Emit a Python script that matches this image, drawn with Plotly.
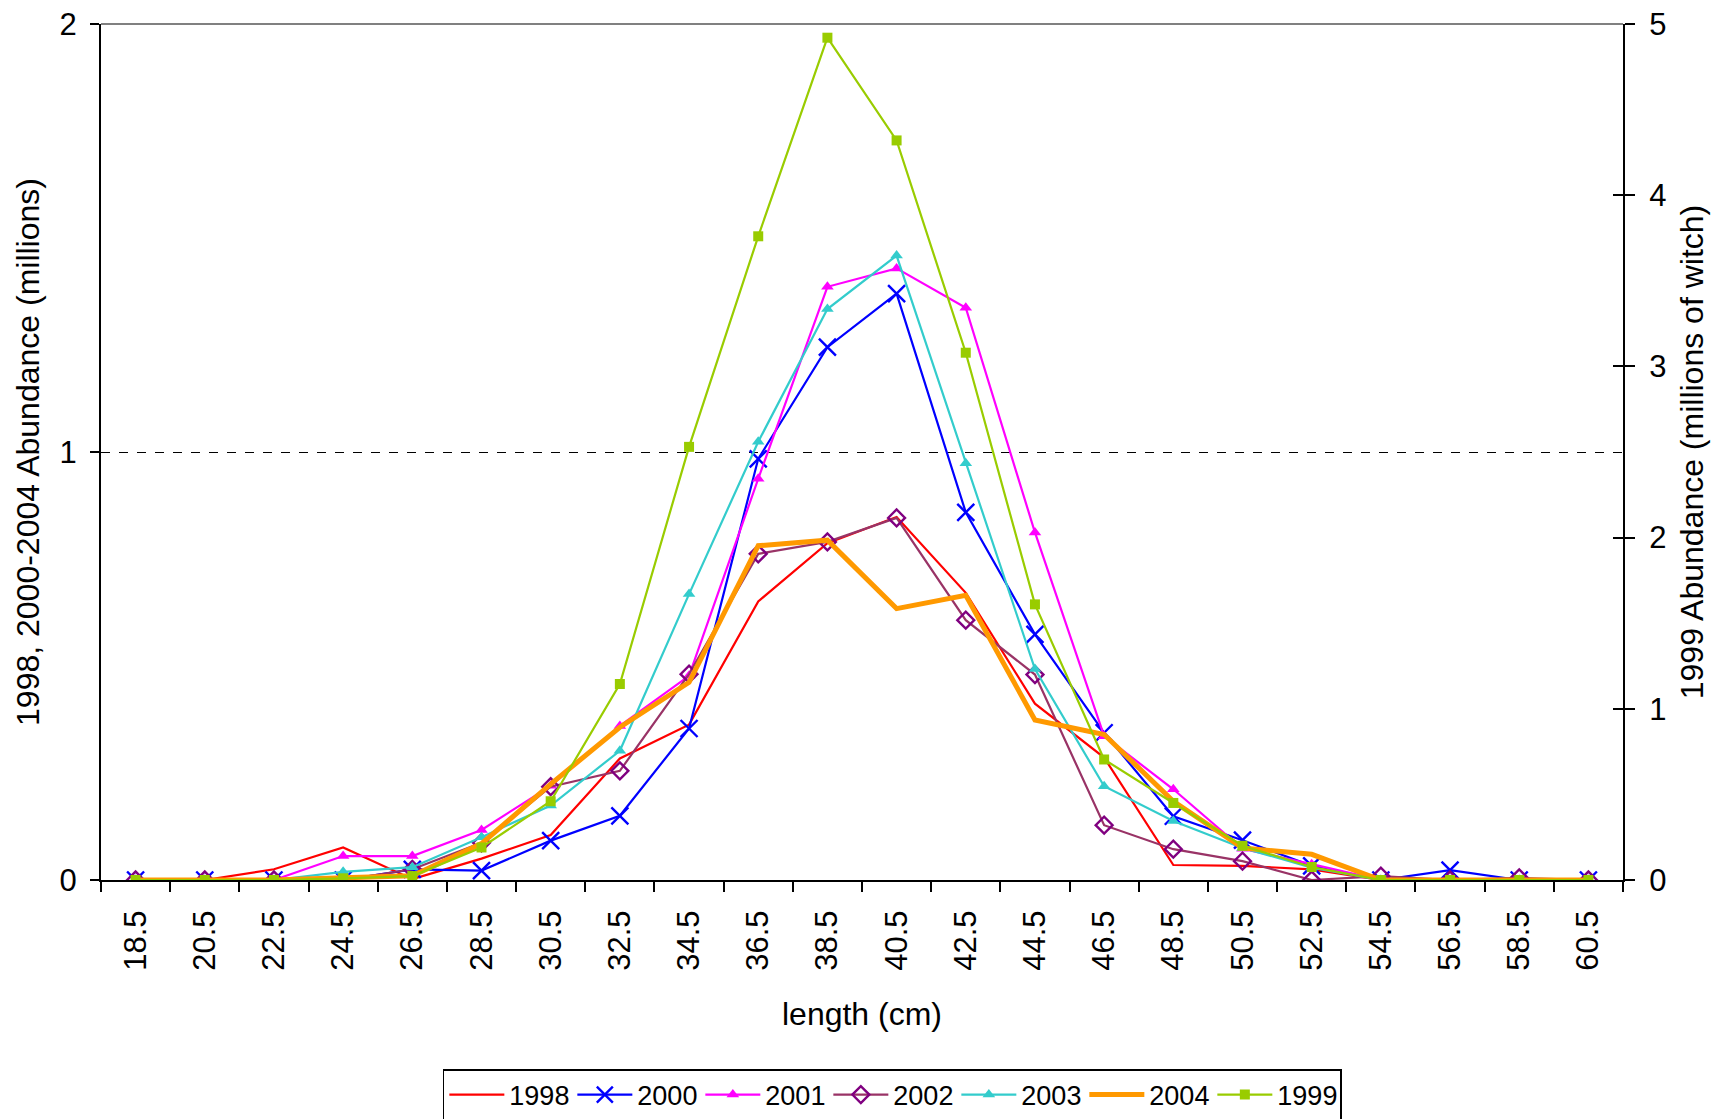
import plotly.graph_objects as go

lengths = ["18.5", "20.5", "22.5", "24.5", "26.5", "28.5", "30.5", "32.5", "34.5", "36.5", "38.5",
           "40.5", "42.5", "44.5", "46.5", "48.5", "50.5", "52.5", "54.5", "56.5", "58.5", "60.5"]

y1998 = [0, 0, 0.025, 0.076, 0.002, 0.05, 0.105, 0.284, 0.363, 0.651, 0.787, 0.848, 0.671, 0.412, 0.286, 0.035, 0.033, 0.025, 0, 0, 0, 0]
y2000 = [0, 0, 0, 0, 0.025, 0.022, 0.092, 0.150, 0.354, 0.984, 1.245, 1.370, 0.859, 0.574, 0.344, 0.149, 0.093, 0.033, 0, 0.023, 0, 0]
y2001 = [0, 0, 0, 0.056, 0.056, 0.117, 0.22, 0.36, 0.477, 0.9375, 1.386, 1.429, 1.337, 0.812, 0.336, 0.212, 0.073, 0.037, 0, 0, 0, 0]
y2002 = [0, 0, 0, 0, 0.025, 0.087, 0.218, 0.255, 0.481, 0.762, 0.79, 0.846, 0.607, 0.48, 0.128, 0.072, 0.044, 0, 0.009, 0, 0.005, 0]
y2003 = [0, 0, 0, 0.019, 0.03, 0.10, 0.174, 0.302, 0.668, 1.024, 1.334, 1.459, 0.974, 0.493, 0.219, 0.138, 0.075, 0.029, 0, 0, 0, 0]
y2004 = [0, 0, 0, 0.005, 0.01, 0.085, 0.224, 0.357, 0.462, 0.781, 0.794, 0.634, 0.665, 0.374, 0.34, 0.184, 0.075, 0.06, 0, 0, 0, 0]
y1999 = [0, 0, 0, 0.01, 0.023, 0.19, 0.46, 1.145, 2.53, 3.76, 4.92, 4.32, 3.08, 1.61, 0.704, 0.45, 0.2, 0.076, 0, 0, 0, 0]

FONT = "Liberation Sans, Arial, sans-serif"

fig = go.Figure()
fig.add_trace(go.Scatter(x=lengths, y=y1998, name="1998", mode="lines",
                         line=dict(color="#FF0000", width=2.2)))
fig.add_trace(go.Scatter(x=lengths, y=y2000, name="2000", mode="lines+markers",
                         line=dict(color="#0000FF", width=2.2),
                         marker=dict(symbol="x-thin", size=17, line=dict(color="#0000FF", width=2.4))))
fig.add_trace(go.Scatter(x=lengths, y=y2001, name="2001", mode="lines+markers",
                         line=dict(color="#FF00FF", width=2.2),
                         marker=dict(symbol="triangle-up", size=11, color="#FF00FF")))
fig.add_trace(go.Scatter(x=lengths, y=y2002, name="2002", mode="lines+markers",
                         line=dict(color="#993366", width=2.2),
                         marker=dict(symbol="diamond-open", size=13, color="#800080", line=dict(width=2.4))))
fig.add_trace(go.Scatter(x=lengths, y=y2003, name="2003", mode="lines+markers",
                         line=dict(color="#33CCCC", width=2.2),
                         marker=dict(symbol="triangle-up", size=11, color="#33CCCC")))
fig.add_trace(go.Scatter(x=lengths, y=y2004, name="2004", mode="lines",
                         line=dict(color="#FF9900", width=5)))
fig.add_trace(go.Scatter(x=lengths, y=y1999, name="1999", mode="lines+markers", yaxis="y2",
                         line=dict(color="#99CC00", width=2.2),
                         marker=dict(symbol="square", size=10, color="#99CC00")))

fig.update_layout(
    width=1716, height=1119,
    paper_bgcolor="white", plot_bgcolor="white",
    margin=dict(l=101, r=93, t=24, b=239),
    font=dict(family=FONT, size=31, color="black"),
    showlegend=True,
    legend=dict(orientation="h", x=0.2246, xanchor="left",
                yref="container", y=1 - 1069 / 1119, yanchor="top",
                bordercolor="black", borderwidth=1.5, bgcolor="white",
                font=dict(family=FONT, size=27), itemwidth=55,
                entrywidth=58, entrywidthmode="pixels", tracegroupgap=0),
    xaxis=dict(type="category", range=[-0.5, 21.5], tickson="boundaries",
               ticks="outside", ticklen=10, tickwidth=2, tickcolor="black",
               showline=True, linecolor="black", linewidth=2, automargin=False,
               tickangle=-90, showgrid=False, zeroline=False, ticklabelstandoff=16,
               tickfont=dict(size=31),
               title=dict(text="length (cm)", font=dict(size=32), standoff=33)),
    yaxis=dict(range=[0, 2], dtick=1, ticks="outside", ticklen=9, tickwidth=1.5, tickcolor="black",
               showline=True, linecolor="black", linewidth=2, automargin=False,
               showgrid=True, gridcolor="black", griddash="dash", gridwidth=1,
               zeroline=False, ticklabelstandoff=7, tickfont=dict(size=31),
               title=dict(text="1998, 2000-2004 Abundance (millions)", font=dict(size=32), standoff=10)),
    yaxis2=dict(range=[0, 5], dtick=1, overlaying="y", side="right",
                ticks="outside", ticklen=10, tickwidth=1.5, tickcolor="black",
                showline=True, linecolor="black", linewidth=2, automargin=False,
                showgrid=False, zeroline=False, ticklabelstandoff=8, tickfont=dict(size=31),
                title=dict(text="1999 Abundance (millions of witch)", font=dict(size=32), standoff=15)),
    yaxis3=dict(range=[0, 5], dtick=1, overlaying="y", side="right",
                ticks="inside", ticklen=10, tickwidth=1.5, tickcolor="black",
                showline=False, showticklabels=False, automargin=False,
                showgrid=False, zeroline=False),
    shapes=[dict(type="line", xref="paper", yref="paper", x0=0, x1=1, y0=1, y1=1,
                 line=dict(color="#808080", width=2), layer="above")],
)

# invisible carrier so the inner half of the right-axis ticks is drawn
fig.add_trace(go.Scatter(x=[lengths[0]], y=[None], yaxis="y3", showlegend=False,
                         hoverinfo="skip", mode="lines"))

fig.write_html("out.html", config={"displayModeBar": False},
               post_script="document.body.style.margin='0';")
